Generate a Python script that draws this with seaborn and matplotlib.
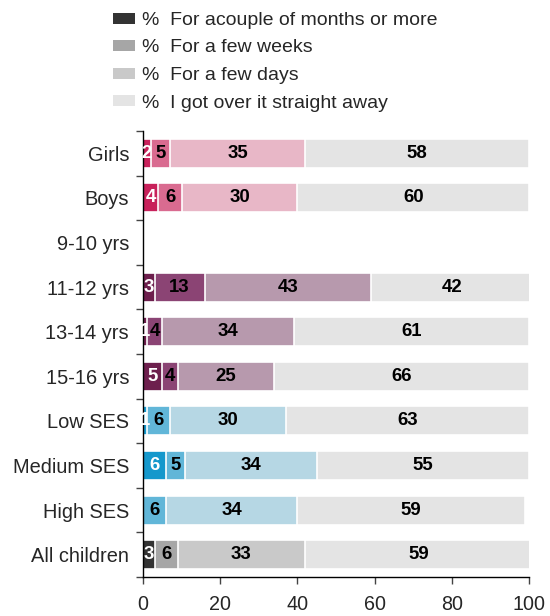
import numpy as np
import pandas as pd
import matplotlib
matplotlib.use("Agg")
import matplotlib.pyplot as plt
from matplotlib.patches import Patch
import seaborn as sns

categories = ["Girls", "Boys", "9-10 yrs", "11-12 yrs", "13-14 yrs", "15-16 yrs",
              "Low SES", "Medium SES", "High SES", "All children"]
series_names = ["%  For acouple of months or more", "%  For a few weeks",
                "%  For a few days", "%  I got over it straight away"]
months = [2, 4, np.nan, 3, 1, 5, 1, 6, 0, 3]
weeks = [5, 6, np.nan, 13, 4, 4, 6, 5, 6, 6]
days = [35, 30, np.nan, 43, 34, 25, 30, 34, 34, 33]
straight = [58, 60, np.nan, 42, 61, 66, 63, 55, 59, 59]
xticks = [0, 20, 40, 60, 80, 100]

# colour groups (style)
pink = ["#c8215b", "#d96b90", "#e8b7c7"]
purple = ["#6d1f4d", "#8b4474", "#b799ad"]
blue = ["#1598cc", "#61b6d8", "#b6d7e4"]
grey = ["#333333", "#a6a6a6", "#c9c9c9"]
last_col = "#e4e4e4"
group_of = [pink, pink, pink, purple, purple, purple, blue, blue, blue, grey]
legend_cols = ["#333333", "#a6a6a6", "#c9c9c9", "#e4e4e4"]
label_cols = ["white", "black", "black", "black"]

sns.set_style("ticks")
plt.rcParams["font.family"] = ["Liberation Sans", "DejaVu Sans"]

vals = np.array([months, weeks, days, straight], dtype=float)  # 4 x n
cum = np.cumsum(vals, axis=0)

fig = plt.figure(figsize=(5.5, 6.16), dpi=100)
ax = fig.add_axes([143/550, 1-577/616, (529-143)/550, (577-131)/616])

for k in reversed(range(4)):
    df = pd.DataFrame({"cat": categories, "val": cum[k]})
    if k == 3:
        pal = {c: last_col for c in categories}
    else:
        pal = {c: group_of[i][k] for i, c in enumerate(categories)}
    sns.barplot(data=df, x="val", y="cat", order=categories, hue="cat",
                hue_order=categories, palette=pal, legend=False, width=0.65,
                edgecolor="white", linewidth=1.2, errorbar=None, orient="h",
                saturation=1, ax=ax)

for i, c in enumerate(categories):
    for k in range(4):
        v = vals[k, i]
        if np.isnan(v) or v == 0:
            continue
        start = cum[k, i] - v
        ax.text(start + v/2, i, f"{int(v)}", ha="center", va="center",
                fontsize=13.4, fontweight="bold", color=label_cols[k])

ax.set_xlim(0, 100)
ax.set_ylim(len(categories)-0.5, -0.5)
ax.set_xticks(xticks)
ax.set_xlabel("")
ax.set_ylabel("")
ax.set_yticks(np.arange(-0.5, len(categories), 1), minor=True)
ax.tick_params(axis="y", which="major", length=0, pad=10, labelsize=14.4)
ax.tick_params(axis="y", which="minor", length=5, width=1, color="#444444")
ax.tick_params(axis="x", length=5, width=1, pad=8, labelsize=14.2, color="#444444")
for s in ["top", "right"]:
    ax.spines[s].set_visible(False)
for s in ["left", "bottom"]:
    ax.spines[s].set_color("black")
    ax.spines[s].set_linewidth(1)

handles = [Patch(facecolor=c, edgecolor="none") for c in legend_cols]
fig.legend(handles, series_names, loc="upper left",
           bbox_to_anchor=(113/550, 1-12/616), frameon=False, fontsize=14,
           handlelength=1.12, handleheight=0.5, handletextpad=0.38,
           labelspacing=0.54, borderpad=0, borderaxespad=0)

fig.savefig("out.png", dpi=100)
